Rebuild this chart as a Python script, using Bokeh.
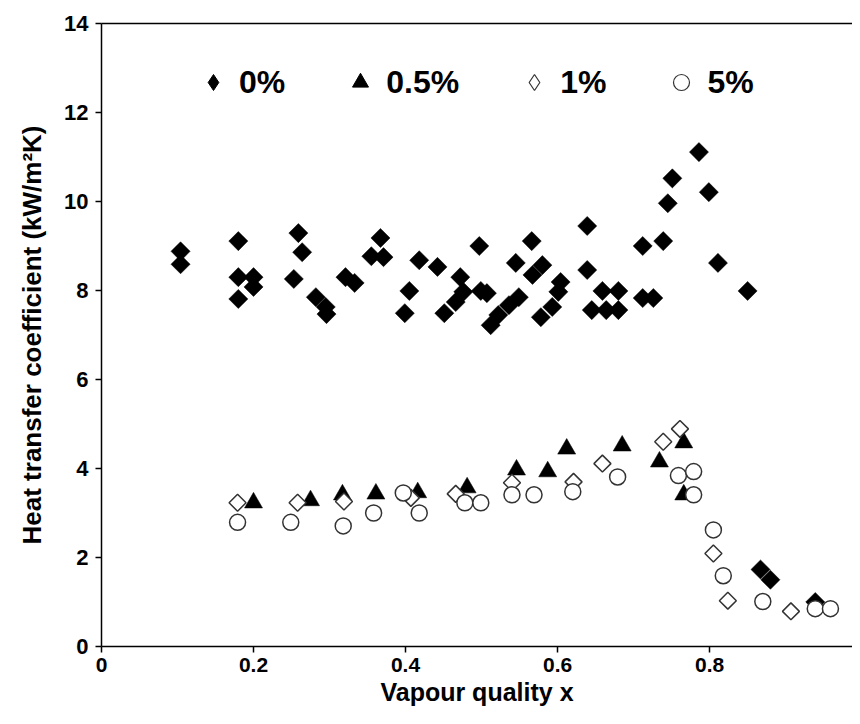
from bokeh.plotting import figure
from bokeh.models import Range1d, LinearAxis, FixedTicker, Legend, LegendItem
from bokeh.embed import file_html
from bokeh.resources import INLINE
import math

FONT = "Liberation Sans"

# ---- data ----
x_0 = [0.104, 0.104, 0.180, 0.180, 0.180, 0.200, 0.200, 0.259, 0.264, 0.253,
       0.282, 0.295, 0.296, 0.321, 0.333, 0.355, 0.367, 0.371, 0.418, 0.442,
       0.405, 0.399, 0.472, 0.466, 0.476, 0.451, 0.497, 0.499, 0.507, 0.512,
       0.522, 0.545, 0.566, 0.567, 0.580, 0.536, 0.549, 0.604, 0.601, 0.578,
       0.593, 0.639, 0.639, 0.659, 0.680, 0.645, 0.664, 0.680, 0.712, 0.739,
       0.745, 0.751, 0.712, 0.726, 0.786, 0.799, 0.811, 0.850, 0.867, 0.880,
       0.939]
y_0 = [8.88, 8.59, 9.11, 8.30, 7.81, 8.30, 8.08, 9.29, 8.86, 8.26,
       7.85, 7.63, 7.47, 8.30, 8.17, 8.77, 9.18, 8.75, 8.68, 8.53,
       7.99, 7.49, 8.30, 7.74, 7.97, 7.49, 9.00, 7.99, 7.94, 7.22,
       7.45, 8.62, 9.11, 8.35, 8.57, 7.67, 7.85, 8.19, 7.97, 7.40,
       7.63, 9.45, 8.46, 7.99, 7.99, 7.56, 7.56, 7.56, 9.00, 9.11,
       9.96, 10.52, 7.83, 7.83, 11.11, 10.21, 8.62, 7.99, 1.73, 1.50,
       1.00]

x_05 = [0.200, 0.275, 0.317, 0.361, 0.416, 0.481, 0.546, 0.587, 0.612, 0.685,
        0.734, 0.766, 0.766]
y_05 = [3.23, 3.28, 3.41, 3.43, 3.46, 3.57, 3.97, 3.93, 4.44, 4.51,
        4.15, 4.58, 3.41]

x_1 = [0.179, 0.258, 0.319, 0.407, 0.466, 0.540, 0.621, 0.659, 0.739, 0.761,
       0.805, 0.824, 0.907]
y_1 = [3.23, 3.23, 3.26, 3.34, 3.43, 3.68, 3.70, 4.11, 4.60, 4.89,
       2.09, 1.03, 0.79]

x_5 = [0.179, 0.249, 0.318, 0.358, 0.397, 0.418, 0.478, 0.499, 0.540, 0.569,
       0.620, 0.679, 0.759, 0.779, 0.779, 0.805, 0.818, 0.870, 0.939, 0.959]
y_5 = [2.79, 2.79, 2.71, 3.00, 3.45, 3.00, 3.23, 3.23, 3.41, 3.41,
       3.48, 3.81, 3.84, 3.93, 3.41, 2.62, 1.59, 1.01, 0.85, 0.85]

series_labels = ["0%", "0.5%", "1%", "5%"]
x_ticks = [0, 0.2, 0.4, 0.6, 0.8, 1]
x_tick_labels = ["0", "0.2", "0.4", "0.6", "0.8", "1"]
y_ticks = [0, 2, 4, 6, 8, 10, 12, 14]
x_title = "Vapour quality x"
y_title = "Heat transfer coefficient (kW/m\u00b2K)"

# ---- figure ----
p = figure(width=852, height=708, output_backend="svg", toolbar_location=None,
           x_range=Range1d(0, 0.988), y_range=Range1d(0, 14),
           min_border_left=101, min_border_right=0, min_border_top=23,
           min_border_bottom=61)
p.outline_line_color = None
p.grid.visible = False
p.background_fill_color = "white"
p.border_fill_color = "white"

for ax in (p.xaxis[0], p.yaxis[0]):
    ax.axis_line_width = 1.5
    ax.axis_line_color = "black"
    ax.major_tick_line_width = 1.5
    ax.major_tick_line_color = "black"
    ax.major_tick_out = 6
    ax.major_tick_in = 0
    ax.minor_tick_line_color = None
    ax.major_label_text_font = FONT
    ax.major_label_text_font_style = "bold"
    ax.major_label_text_color = "black"
    ax.axis_label_text_font = FONT
    ax.axis_label_text_font_style = "bold"
    ax.axis_label_text_color = "black"

p.xaxis[0].ticker = FixedTicker(ticks=x_ticks)
p.xaxis[0].major_label_overrides = {t: l for t, l in zip(x_ticks, x_tick_labels)}
p.xaxis[0].major_label_text_font_size = "21px"
p.xaxis[0].major_label_standoff = 5
p.xaxis[0].axis_label = x_title
p.xaxis[0].axis_label_text_font_size = "25px"
p.xaxis[0].axis_label_standoff = 3

p.yaxis[0].ticker = FixedTicker(ticks=y_ticks)
p.yaxis[0].major_label_text_font_size = "22px"
p.yaxis[0].major_label_standoff = 7
p.yaxis[0].axis_label = y_title
p.yaxis[0].axis_label_text_font_size = "26px"
p.yaxis[0].axis_label_standoff = 14

top = LinearAxis(ticker=FixedTicker(ticks=[]), major_label_text_font_size="0px",
                 axis_line_width=1.5, axis_line_color="black",
                 major_tick_line_color=None, minor_tick_line_color=None)
p.add_layout(top, "above")

ang = math.pi / 4
p.scatter(x_0, y_0, marker="square", size=13.5, angle=ang,
          fill_color="black", line_color="black", line_width=0.5)
p.scatter(x_05, y_05, marker="triangle", size=18,
          fill_color="black", line_color="black", line_width=0.5)
p.scatter(x_1, y_1, marker="square", size=12, angle=ang,
          fill_color="white", line_color="#333333", line_width=1.5)
p.scatter(x_5, y_5, marker="circle", size=16,
          fill_color="white", line_color="#333333", line_width=1.5)

# legend proxies (same data, zero size in the plot; legend draws its own size)
l0 = p.scatter(x_0, y_0, marker="diamond", size=0, fill_color="black", line_color="black")
l1 = p.scatter(x_05, y_05, marker="triangle", size=0, fill_color="black", line_color="black")
l2 = p.scatter(x_1, y_1, marker="diamond", size=0, fill_color="white", line_color="#333333", line_width=1.2)
l3 = p.scatter(x_5, y_5, marker="circle", size=0, fill_color="white", line_color="#333333", line_width=1.2)

legend = Legend(items=[LegendItem(label=series_labels[0], renderers=[l0]),
                       LegendItem(label=series_labels[1], renderers=[l1]),
                       LegendItem(label=series_labels[2], renderers=[l2]),
                       LegendItem(label=series_labels[3], renderers=[l3])],
                orientation="horizontal", location=(92, 544),
                glyph_width=40, glyph_height=40, label_standoff=6, spacing=55,
                padding=0, margin=0, border_line_color=None,
                background_fill_alpha=0,
                label_text_font=FONT, label_text_font_style="bold",
                label_text_font_size="32px", label_text_color="black")
p.add_layout(legend)

open("out.html", "w").write(file_html(p, INLINE))
